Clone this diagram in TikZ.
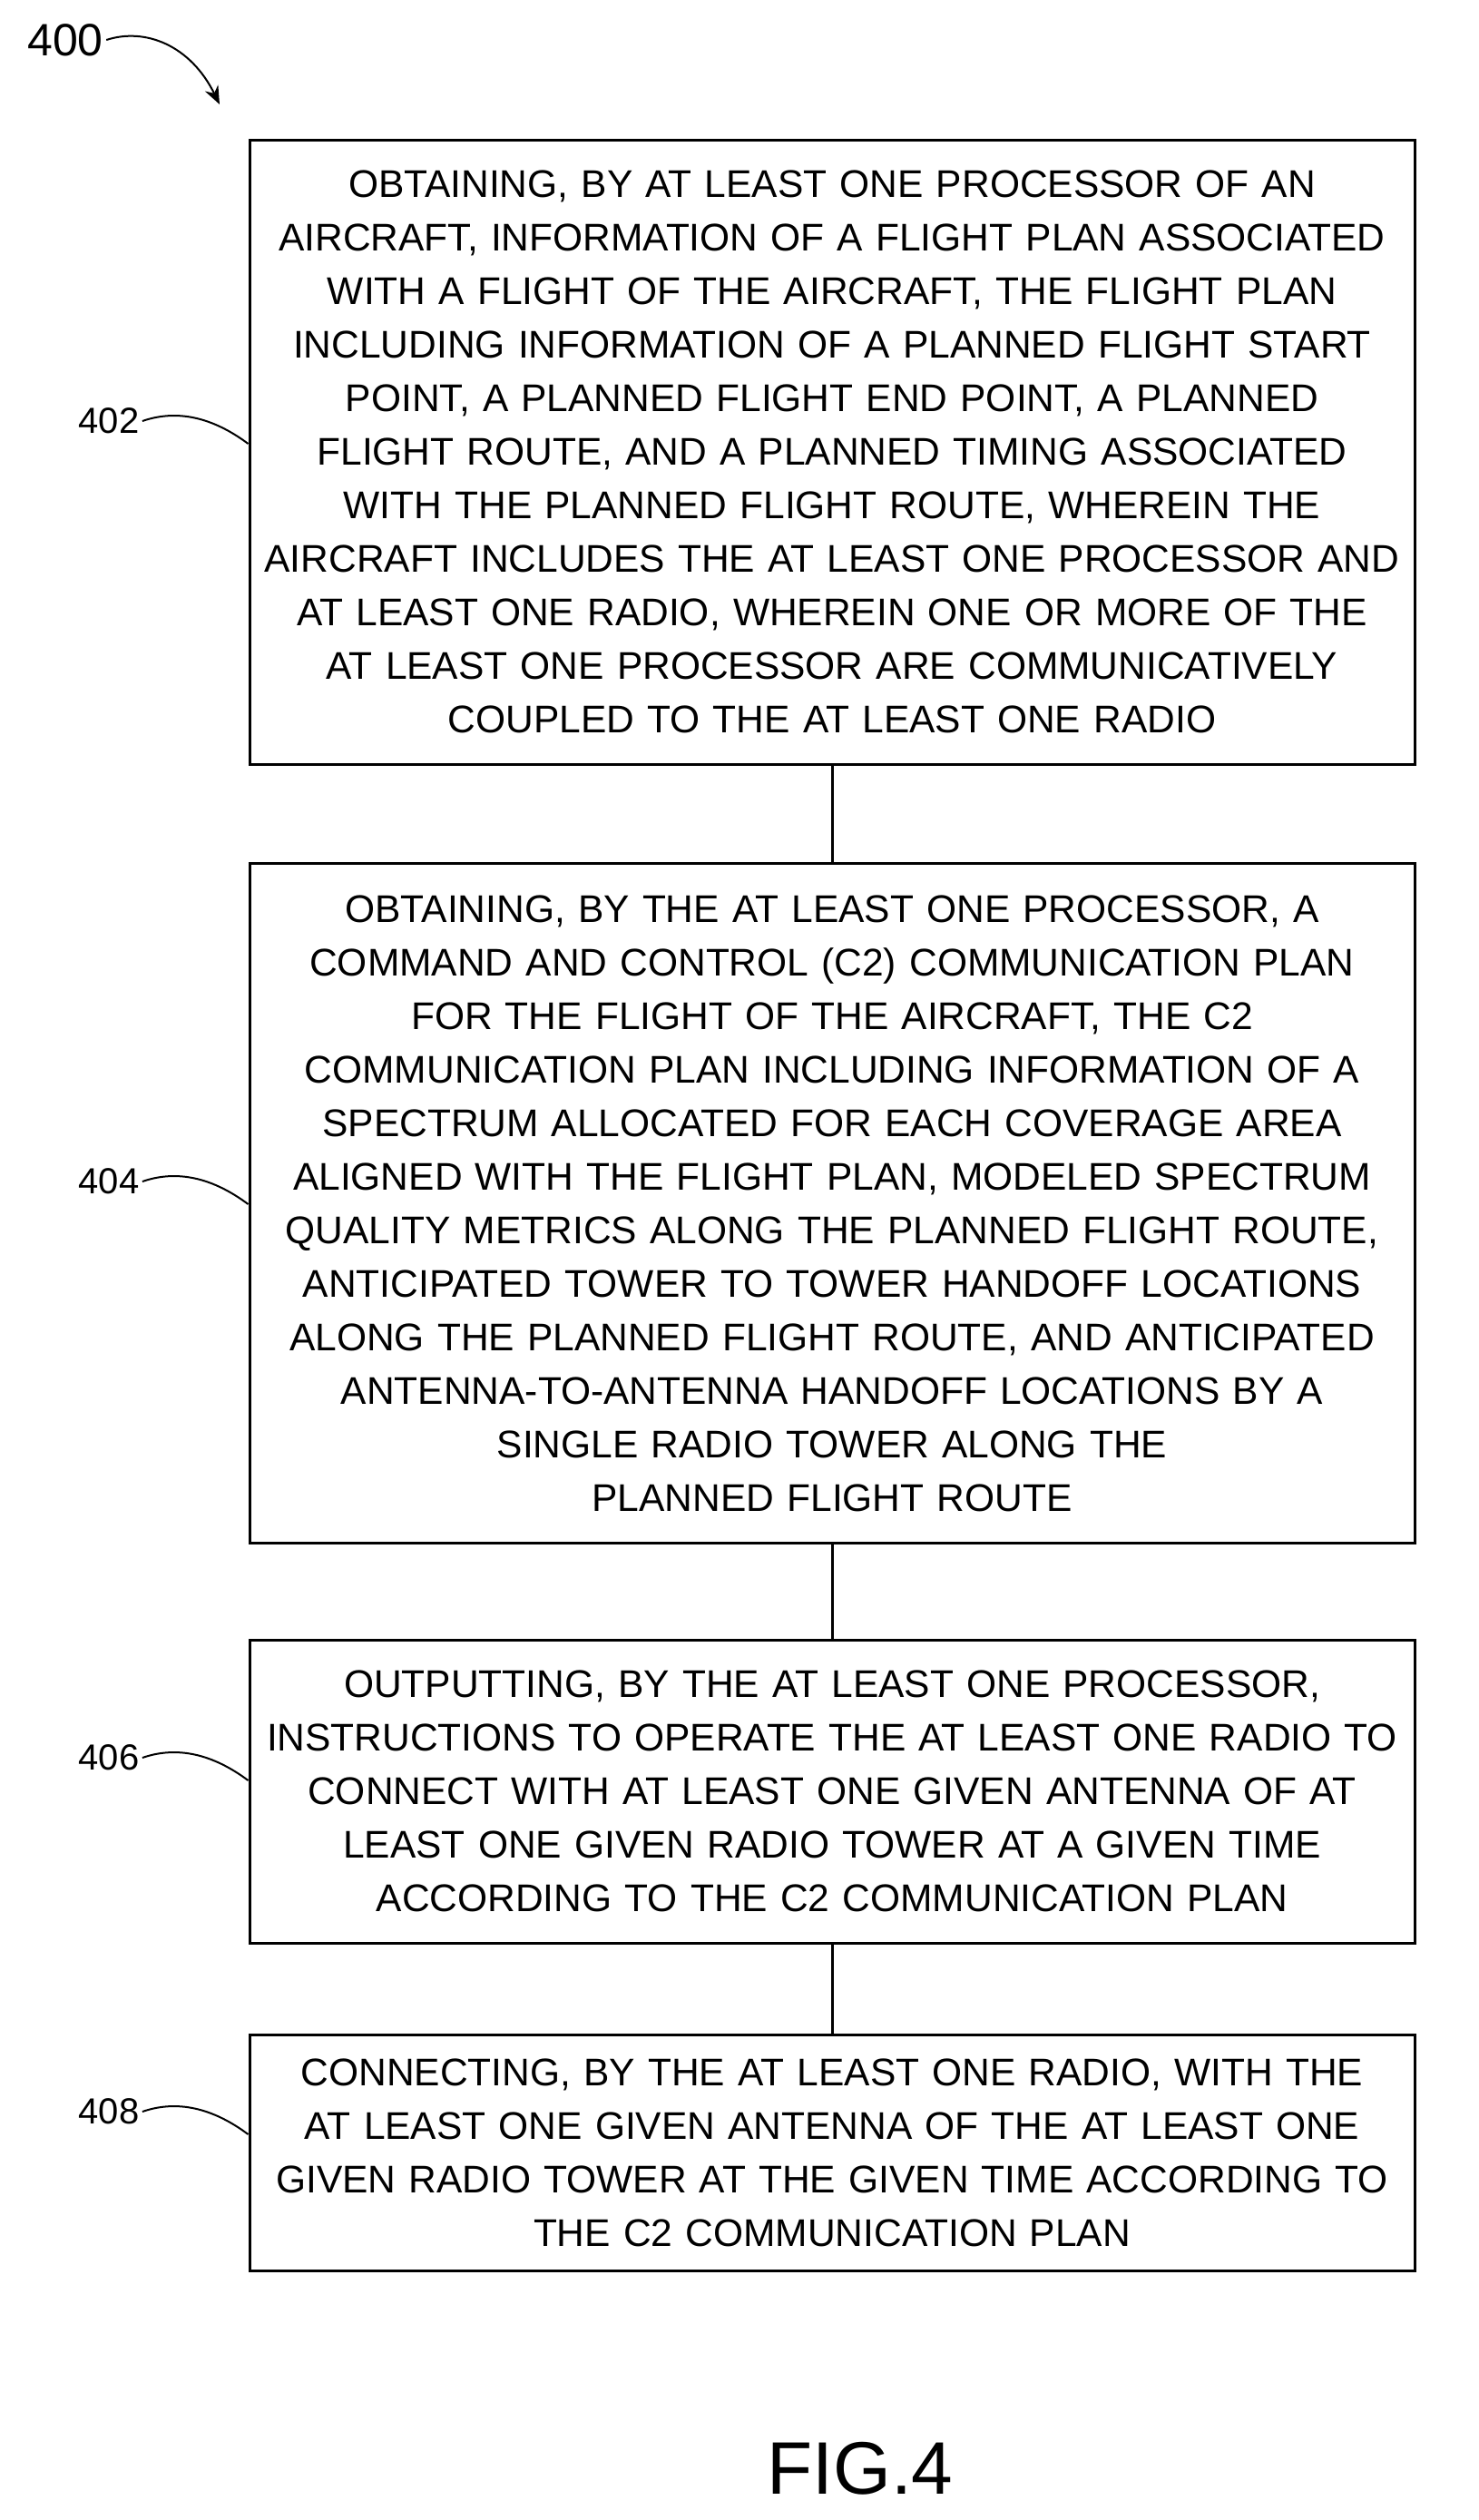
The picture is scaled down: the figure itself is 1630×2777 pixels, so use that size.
\documentclass[tikz,border=0pt]{standalone}
\usepackage{fontspec}
\setmainfont{Liberation Sans}
\usetikzlibrary{arrows.meta}
\begin{document}
\begin{tikzpicture}[x=1pt,y=-1pt,
 box/.style={draw,line width=3pt,minimum width=1284pt,text width=1270pt,align=center,font=\fontsize{42.5}{59}\selectfont,inner sep=0pt},
 lab/.style={font=\fontsize{40}{48}\selectfont},
 sq/.style={line width=2pt}]
\useasboundingbox (0,0) rectangle (1630,2777);
\node[box,minimum height=688pt] (b1) at (917,498) {OBTAINING, BY AT LEAST ONE PROCESSOR OF AN\\AIRCRAFT, INFORMATION OF A FLIGHT PLAN ASSOCIATED\\WITH A FLIGHT OF THE AIRCRAFT, THE FLIGHT PLAN\\INCLUDING INFORMATION OF A PLANNED FLIGHT START\\POINT, A PLANNED FLIGHT END POINT, A PLANNED\\FLIGHT ROUTE, AND A PLANNED TIMING ASSOCIATED\\WITH THE PLANNED FLIGHT ROUTE, WHEREIN THE\\AIRCRAFT INCLUDES THE AT LEAST ONE PROCESSOR AND\\AT LEAST ONE RADIO, WHEREIN ONE OR MORE OF THE\\AT LEAST ONE PROCESSOR ARE COMMUNICATIVELY\\COUPLED TO THE AT LEAST ONE RADIO};
\node[box,minimum height=749pt] (b2) at (917,1326) {OBTAINING, BY THE AT LEAST ONE PROCESSOR, A\\COMMAND AND CONTROL (C2) COMMUNICATION PLAN\\FOR THE FLIGHT OF THE AIRCRAFT, THE C2\\COMMUNICATION PLAN INCLUDING INFORMATION OF A\\SPECTRUM ALLOCATED FOR EACH COVERAGE AREA\\ALIGNED WITH THE FLIGHT PLAN, MODELED SPECTRUM\\QUALITY METRICS ALONG THE PLANNED FLIGHT ROUTE,\\ANTICIPATED TOWER TO TOWER HANDOFF LOCATIONS\\ALONG THE PLANNED FLIGHT ROUTE, AND ANTICIPATED\\ANTENNA-TO-ANTENNA HANDOFF LOCATIONS BY A\\SINGLE RADIO TOWER ALONG THE\\PLANNED FLIGHT ROUTE};
\node[box,minimum height=334pt] (b3) at (917,1974) {OUTPUTTING, BY THE AT LEAST ONE PROCESSOR,\\INSTRUCTIONS TO OPERATE THE AT LEAST ONE RADIO TO\\CONNECT WITH AT LEAST ONE GIVEN ANTENNA OF AT\\LEAST ONE GIVEN RADIO TOWER AT A GIVEN TIME\\ACCORDING TO THE C2 COMMUNICATION PLAN};
\node[box,minimum height=260pt] (b4) at (917,2372) {CONNECTING, BY THE AT LEAST ONE RADIO, WITH THE\\AT LEAST ONE GIVEN ANTENNA OF THE AT LEAST ONE\\GIVEN RADIO TOWER AT THE GIVEN TIME ACCORDING TO\\THE C2 COMMUNICATION PLAN};
\draw[line width=3pt] (b1.south) -- (b2.north);
\draw[line width=3pt] (b2.south) -- (b3.north);
\draw[line width=3pt] (b3.south) -- (b4.north);
\node[font=\fontsize{50}{56}\selectfont] (l400) at (72,44) {400};
\coordinate (a400) at (242,115);
\draw[sq,-{Stealth[length=20pt,width=16pt]}] (l400.east) .. controls (160,30) and (210,50) .. (a400);
\foreach \n/\b/\y in {402/b1/464,404/b2/1302,406/b3/1937,408/b4/2327}{
  \node[lab] (l\n) at (120,\y) {\n};
  \draw[sq] (l\n.east) .. controls (200,\y-15) and (240,\y) .. (\b.west |- 0,\y+25);
}
\node[font=\fontsize{82}{90}\selectfont] (fig) at (948,2720) {FIG.4};
\end{tikzpicture}
\end{document}
